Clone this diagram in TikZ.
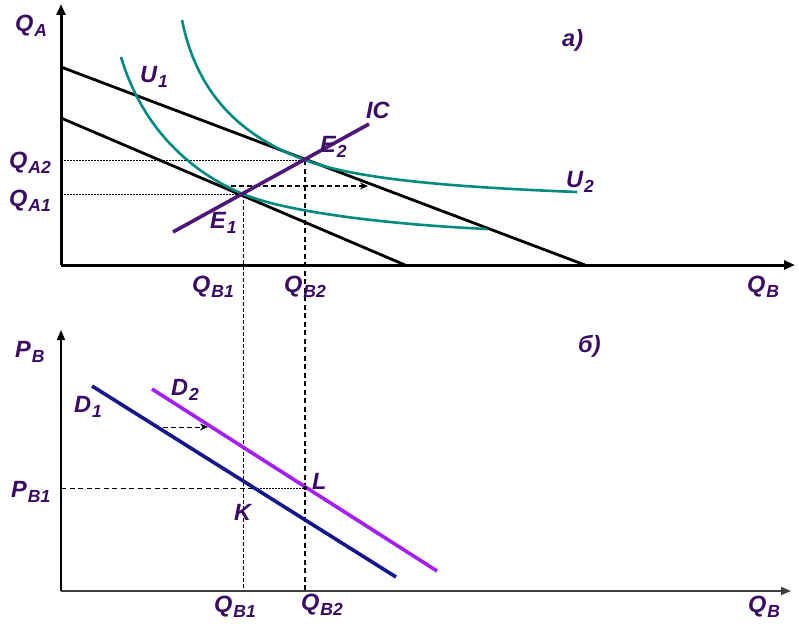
\documentclass[tikz,border=0pt]{standalone}
\usepackage{fontspec}
\setmainfont{Liberation Sans}
\usetikzlibrary{arrows.meta}
\definecolor{txt}{RGB}{58,10,100}
\definecolor{ucol}{RGB}{0,138,128}
\definecolor{iccol}{RGB}{78,22,122}
\definecolor{donecol}{RGB}{22,22,140}
\definecolor{dtwocol}{RGB}{165,30,245}
\newcommand\lb[2]{\fontsize{23.5}{23.5}\selectfont\bfseries\itshape #1\kern1pt\raisebox{-5pt}{\fontsize{17.5}{17.5}\selectfont #2}}
\begin{document}
\begin{tikzpicture}[x=1pt,y=-1pt,
  lab/.style={anchor=base west,inner sep=0pt,text=txt},
  axis/.style={line width=3pt,-{Triangle[length=11pt,width=9pt]}},
  axisb/.style={line width=1.4pt,-{Triangle[length=10pt,width=8pt]}},
  budget/.style={line width=2.8pt,black},
  ucurve/.style={line width=2.6pt,ucol},
  guide/.style={line width=0.7pt,dash pattern=on 1.5pt off 1.5pt},
  vguide/.style={line width=1.1pt,dash pattern=on 5pt off 3.5pt},
  shiftarrow/.style={line width=1.1pt,dash pattern=on 5pt off 3pt,-{Stealth[length=8pt,width=7pt]}}]
\useasboundingbox (0,0) rectangle (799,634);
% coordinates
\coordinate (O1) at (61,265);
\coordinate (Ytop) at (61,4);
\coordinate (Xr) at (795,265);
\coordinate (O2) at (61,591);
\coordinate (Ytop2) at (61,330);
\coordinate (Xr2) at (791,591);
\coordinate (B1s) at (61,67);
\coordinate (B1e) at (585,265);
\coordinate (B2s) at (61,118);
\coordinate (B2e) at (405,265);
\coordinate (E1) at (243,194);
\coordinate (E2) at (305,160);
\coordinate (ICs) at (173,232);
\coordinate (ICe) at (369,124);
\coordinate (QA2) at (61,160);
\coordinate (QA1) at (61,194);
\coordinate (V1) at (243,591);
\coordinate (V2) at (305,591);
\coordinate (ArS) at (231,186);
\coordinate (ArE) at (368,186);
\coordinate (D1s) at (92,386);
\coordinate (D1e) at (396,577);
\coordinate (D2s) at (152,389);
\coordinate (D2e) at (437,571);
\coordinate (PB1) at (61,488);
\coordinate (K) at (254,488);
\coordinate (L) at (305,488);
\coordinate (Ar2S) at (163,427);
\coordinate (Ar2E) at (208,427);
% guides
\draw[guide] (QA2) -- (E2);
\draw[guide] (QA1) -- (E1);
\draw[vguide,line width=0.8pt,dash pattern=on 3.5pt off 2.5pt] (E1) -- (V1);
\draw[vguide] (E2) -- (V2);
\draw[shiftarrow] (ArS) -- (ArE);
\draw[vguide,line width=0.9pt] (PB1) -- (K);
\draw[guide] (K) -- (L);
\draw[shiftarrow,line width=0.9pt] (Ar2S) -- (Ar2E);
% axes
\draw[axis] (O1) -- (Ytop);
\draw[axis] (O1) -- (Xr);
\draw[axisb] (O2) -- (Ytop2);
\draw[axisb,draw=black!75] (O2) -- (Xr2);
% budget lines
\draw[budget] (B1s) -- (B1e);
\draw[budget] (B2s) -- (B2e);
% indifference curves
\draw[ucurve] (121,57) .. controls (145,137) and (200,176) .. (E1)
  .. controls (283,211) and (380,224) .. (487,229);
\draw[ucurve] (182,20) .. controls (200,110) and (260,143) .. (E2)
  .. controls (355,179) and (450,187) .. (577,192);
% IC
\draw[line width=3.6pt,iccol] (ICs) -- (ICe);
% demand
\draw[line width=3.6pt,donecol] (D1s) -- (D1e);
\draw[line width=3.6pt,dtwocol] (D2s) -- (D2e);
\fill (L) circle (2pt);
% labels
\node[lab] (lQA) at (15,32) {\lb{Q}{A}};
\node[lab] (lU1) at (140,82) {\lb{U}{1}};
\node[lab] (lIC) at (366,118) {\lb{IC}{}};
\node[lab] (lE2) at (320,152) {\lb{E}{2}};
\node[lab] (lU2) at (566,187) {\lb{U}{2}};
\node[lab] (la) at (562,46) {\lb{a)}{}};
\node[lab] (lQA2) at (9,168) {\lb{Q}{A2}};
\node[lab] (lQA1) at (9,206) {\lb{Q}{A1}};
\node[lab] (lE1) at (210,228) {\lb{E}{1}};
\node[lab] (lQB1) at (192,292) {\lb{Q}{B1}};
\node[lab] (lQB2) at (284,292) {\lb{Q}{B2}};
\node[lab] (lQB) at (747,292) {\lb{Q}{B}};
\node[lab] (lb) at (578,352) {\lb{б)}{}};
\node[lab] (lPB) at (15,357) {\lb{P}{B}};
\node[lab] (lD1) at (74,412) {\lb{D}{1}};
\node[lab] (lD2) at (171,395) {\lb{D}{2}};
\node[lab] (lPB1) at (11,497) {\lb{P}{B1}};
\node[lab] (lL) at (312,489) {\lb{L}{}};
\node[lab] (lK) at (234,520) {\lb{K}{}};
\node[lab] (lQB1b) at (214,612) {\lb{Q}{B1}};
\node[lab] (lQB2b) at (301,610) {\lb{Q}{B2}};
\node[lab] (lQBb) at (748,612) {\lb{Q}{B}};
\end{tikzpicture}
\end{document}
